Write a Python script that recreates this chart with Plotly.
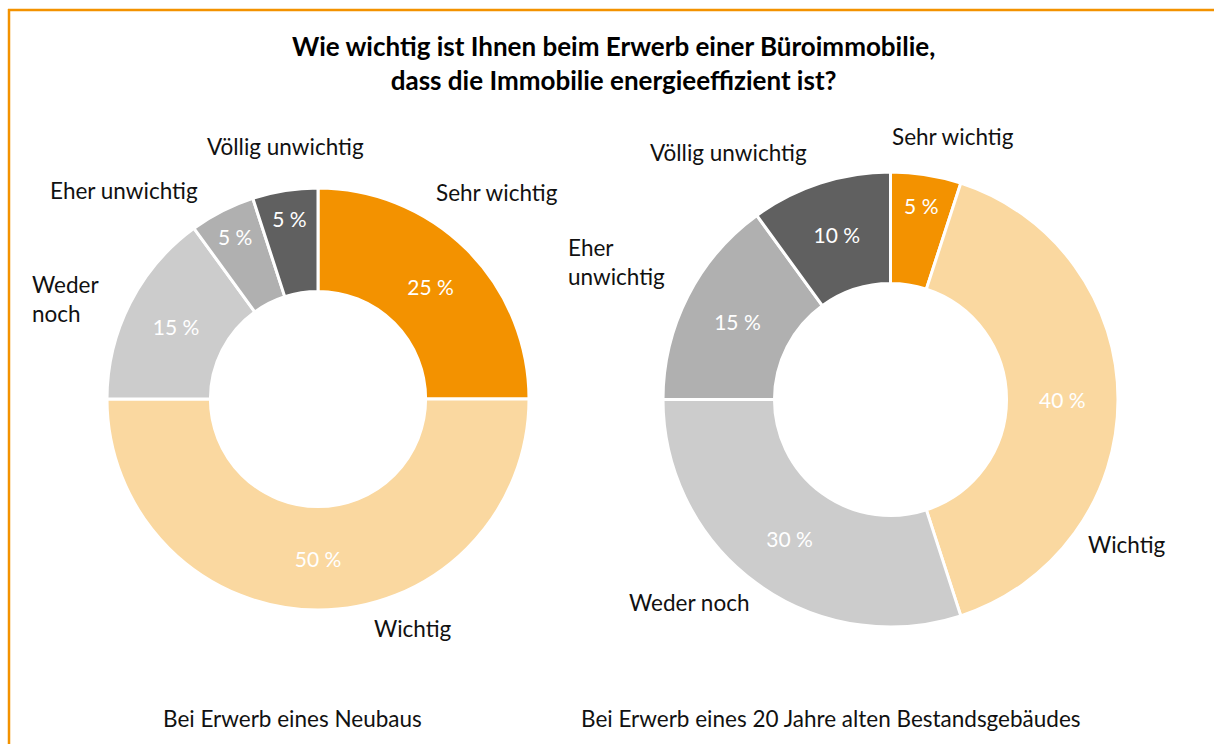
import plotly.graph_objects as go

W, H = 1214, 744

categories = ["Sehr wichtig", "Wichtig", "Weder noch", "Eher unwichtig", "Völlig unwichtig"]
neubau_values = [25, 50, 15, 5, 5]
bestand_values = [5, 40, 30, 15, 10]
colors = ["#F39200", "#FAD8A0", "#CCCCCC", "#B0B0B0", "#606060"]

title_lines = ["Wie wichtig ist Ihnen beim Erwerb einer Büroimmobilie,",
               "dass die Immobilie energieeffizient ist?"]
subtitles = ["Bei Erwerb eines Neubaus", "Bei Erwerb eines 20 Jahre alten Bestandsgebäudes"]

# outside label texts (with manual line breaks as in the reference)
neubau_labels = ["Sehr wichtig", "Wichtig", "Weder<br>noch", "Eher unwichtig", "Völlig unwichtig"]
bestand_labels = ["Sehr wichtig", "Wichtig", "Weder noch", "Eher<br>unwichtig", "Völlig unwichtig"]

FONT = "Source Sans Pro, Lato, Noto Sans, sans-serif"


def px(x, y):
    return x / W, 1 - y / H


def dom(x0, x1, y0, y1):
    return dict(x=[x0 / W, x1 / W], y=[1 - y1 / H, 1 - y0 / H])


fig = go.Figure()
for vals, d in [(neubau_values, dom(107, 529, 188, 610)),
                (bestand_values, dom(663, 1118, 172, 627))]:
    fig.add_trace(go.Pie(
        labels=categories, values=vals, sort=False, direction="clockwise",
        rotation=0, hole=0.51, domain=d,
        marker=dict(colors=colors, line=dict(color="white", width=3)),
        texttemplate="%{value} %", textposition="inside",
        insidetextorientation="horizontal",
        textfont=dict(family=FONT, size=21, color="white"),
        showlegend=False, hoverinfo="label+value",
    ))

anns = []
# title
anns.append(dict(text="<b>" + title_lines[0] + "<br>" + title_lines[1] + "</b>",
                 x=613 / W, y=1 - 63 / H, xref="paper", yref="paper",
                 xanchor="center", yanchor="middle",
                 showarrow=False, align="center",
                 font=dict(family=FONT, size=26, color="#000000")))

# outside labels: (x, y, xanchor)
label_pos_left = [(497, 192, "center"), (413, 628, "center"), (30, 299, "left"),
                  (124, 190, "center"), (285, 146, "center")]
label_pos_right = [(953, 137, "center"), (1127, 544, "center"), (689, 602, "center"),
                   (566, 262, "left"), (728, 152, "center")]
for labels, poss in [(neubau_labels, label_pos_left), (bestand_labels, label_pos_right)]:
    for t, (x, y, xa) in zip(labels, poss):
        ax, ay = px(x, y)
        anns.append(dict(text=t, x=ax, y=ay, xref="paper", yref="paper",
                         xanchor=xa, yanchor="middle", showarrow=False, align="left",
                         font=dict(family=FONT, size=22.5, color="#111111")))

for t, x in zip(subtitles, [292, 831]):
    ax, ay = px(x, 718)
    anns.append(dict(text=t, x=ax, y=ay, xref="paper", yref="paper",
                     xanchor="center", yanchor="middle",
                     showarrow=False, font=dict(family=FONT, size=22.5, color="#111111")))

shapes = [
    dict(type="line", xref="paper", yref="paper", x0=8 / W, x1=1, y0=1 - 10 / H, y1=1 - 10 / H,
         line=dict(color="#F39200", width=2.5)),
    dict(type="line", xref="paper", yref="paper", x0=9 / W, x1=9 / W, y0=0, y1=1 - 9 / H,
         line=dict(color="#F39200", width=2.5)),
]

fig.update_layout(width=W, height=H, margin=dict(l=0, r=0, t=0, b=0),
                  paper_bgcolor="white", plot_bgcolor="white",
                  annotations=anns, shapes=shapes,
                  font=dict(family=FONT))

fig.write_html("out.html")
